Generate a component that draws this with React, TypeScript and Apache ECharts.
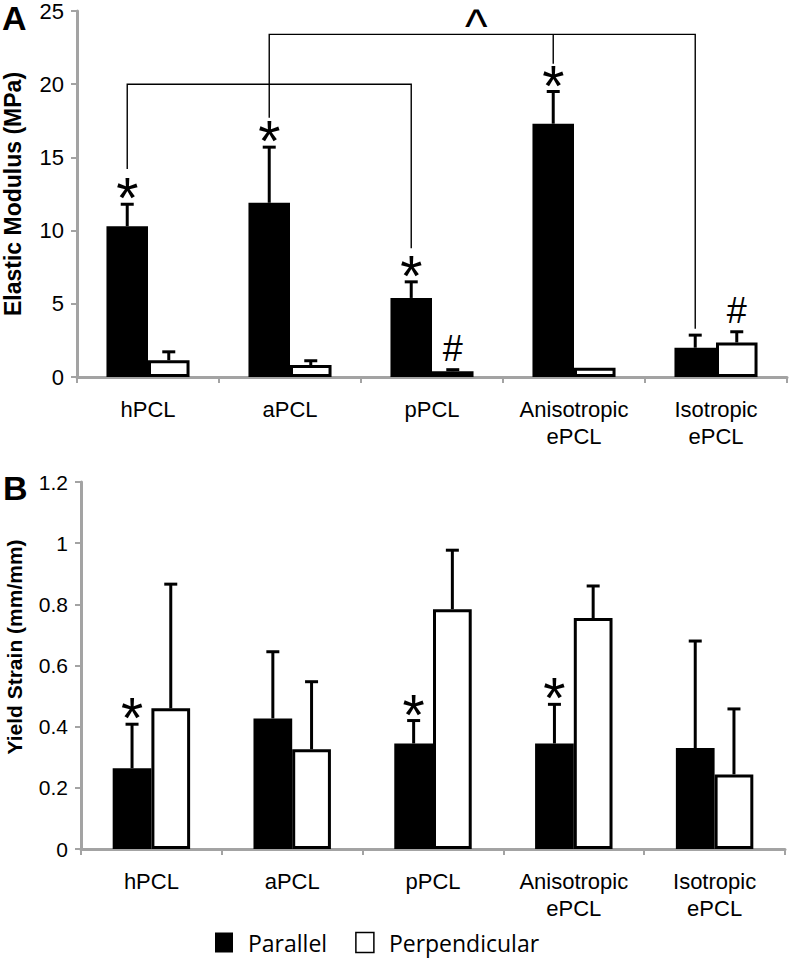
import React, { useEffect, useRef } from "react";
import * as echarts from "echarts";

const categories = ["hPCL", "aPCL", "pPCL", "Anisotropic\nePCL", "Isotropic\nePCL"];

// Panel A: Elastic Modulus (MPa)
const modulusParallel = [10.3, 11.9, 5.4, 17.3, 2.0];
const modulusParallelSD = [1.5, 3.8, 1.1, 2.2, 0.86];
const modulusPerp = [1.15, 0.82, 0.4, 0.63, 2.36];
const modulusPerpSD = [0.57, 0.29, 0.1, 0, 0.73];

// Panel B: Yield Strain (mm/mm)
const strainParallel = [0.264, 0.427, 0.345, 0.345, 0.33];
const strainParallelSD = [0.144, 0.218, 0.075, 0.128, 0.35];
const strainPerp = [0.46, 0.326, 0.784, 0.755, 0.244];
const strainPerpSD = [0.406, 0.221, 0.193, 0.105, 0.214];

// significance marks: category, side (0 parallel, 1 perpendicular), symbol
const modulusMarks = [
  { cat: 0, side: 0, text: "*" },
  { cat: 1, side: 0, text: "*" },
  { cat: 2, side: 0, text: "*" },
  { cat: 3, side: 0, text: "*" },
  { cat: 2, side: 1, text: "#" },
  { cat: 4, side: 1, text: "#" },
];
const strainMarks = [
  { cat: 0, side: 0, text: "*" },
  { cat: 2, side: 0, text: "*" },
  { cat: 3, side: 0, text: "*" },
];

// comparison brackets in panel A (values in MPa)
const modulusBrackets = [
  { from: 0, to: 2, top: 20.0, fromEnd: 14.2, toEnd: 8.8, midCat: -1, midEnd: 0, label: "" },
  { from: 1, to: 4, top: 23.4, fromEnd: 17.7, toEnd: 3.3, midCat: 3, midEnd: 21.4, label: "^" },
];

const GAP_A = 0.415;
const GAP_B = 0.45;
const FONT = "'Liberation Sans', Arial, Helvetica, sans-serif";

function barOffset(api: any, side: number, gap: number) {
  const bw = api.size([1, 0])[0];
  const w = (bw * (1 - gap)) / 2;
  return side === 0 ? -w / 2 : w / 2;
}

function errorSeries(name: string, vals: number[], sds: number[], side: number, gap: number, axis: number) {
  return {
    type: "custom",
    name,
    xAxisIndex: axis,
    yAxisIndex: axis,
    z: 5,
    silent: true,
    data: vals.map((v, i) => [i, v, sds[i]]),
    encode: { x: 0, y: 1 },
    renderItem: (params: any, api: any) => {
      const cat = api.value(0);
      const v = api.value(1);
      const sd = api.value(2);
      if (!(sd > 0)) return { type: "group", children: [] };
      const base = api.coord([cat, v]);
      const top = api.coord([cat, v + sd]);
      const x = base[0] + barOffset(api, side, gap);
      return {
        type: "group",
        children: [
          { type: "line", shape: { x1: x, y1: base[1], x2: x, y2: top[1] }, style: { stroke: "#000", lineWidth: 3 } },
          { type: "line", shape: { x1: x - 6.5, y1: top[1], x2: x + 6.5, y2: top[1] }, style: { stroke: "#000", lineWidth: 3 } },
        ],
      };
    },
  };
}

function markSeries(
  name: string,
  marks: { cat: number; side: number; text: string }[],
  par: number[], parSD: number[], perp: number[], perpSD: number[],
  gap: number, axis: number
) {
  return {
    type: "custom",
    name,
    xAxisIndex: axis,
    yAxisIndex: axis,
    z: 6,
    silent: true,
    clip: false,
    data: marks.map((m) => [m.cat, m.side === 0 ? par[m.cat] + parSD[m.cat] : perp[m.cat] + perpSD[m.cat]]),
    encode: { x: 0, y: 1 },
    renderItem: (params: any, api: any) => {
      const m = marks[params.dataIndex];
      const p = api.coord([api.value(0), api.value(1)]);
      const x = p[0] + barOffset(api, m.side, gap);
      const isStar = m.text === "*";
      return {
        type: "text",
        x,
        y: isStar ? p[1] - 6 : p[1] - 21,
        style: {
          text: m.text,
          fontSize: isStar ? 57 : 36,
          fontFamily: FONT,
          fill: "#000",
          textAlign: "center",
          textVerticalAlign: "middle",
        },
      };
    },
  };
}

function bracketSeries() {
  return {
    type: "custom",
    name: "brackets",
    xAxisIndex: 0,
    yAxisIndex: 0,
    z: 4,
    silent: true,
    clip: false,
    data: modulusBrackets.map((b) => [b.from, b.top]),
    encode: { x: 0, y: 1 },
    renderItem: (params: any, api: any) => {
      const b = modulusBrackets[params.dataIndex];
      const off = barOffset(api, 0, GAP_A);
      const a0 = api.coord([b.from, b.fromEnd]);
      const a1 = api.coord([b.from, b.top]);
      const c1 = api.coord([b.to, b.top]);
      const c0 = api.coord([b.to, b.toEnd]);
      const children: any[] = [
        {
          type: "polyline",
          shape: { points: [[a0[0] + off, a0[1]], [a1[0] + off, a1[1]], [c1[0] + off, c1[1]], [c0[0] + off, c0[1]]] },
          style: { stroke: "#000", lineWidth: 1.4, fill: "none" },
        },
      ];
      if (b.midCat >= 0) {
        const m1 = api.coord([b.midCat, b.top]);
        const m0 = api.coord([b.midCat, b.midEnd]);
        children.push({
          type: "line",
          shape: { x1: m1[0] + off, y1: m1[1], x2: m0[0] + off, y2: m0[1] },
          style: { stroke: "#000", lineWidth: 1.4 },
        });
      }
      if (b.label) {
        children.push({
          type: "text",
          x: (a1[0] + c1[0]) / 2 + off - 6,
          y: a1[1] - 8,
          style: {
            text: b.label,
            fontSize: 48,
            fontFamily: FONT,
            fill: "#000",
            textAlign: "center",
            textVerticalAlign: "middle",
          },
        });
      }
      return { type: "group", children };
    },
  };
}

const axisGray = "#a3a3a3";

function xAxisCfg(grid: number) {
  return {
    type: "category",
    gridIndex: grid,
    data: categories,
    axisLine: { lineStyle: { color: axisGray, width: 3 } },
    axisTick: { show: true, alignWithLabel: false, length: 6, lineStyle: { color: axisGray, width: 2 } },
    axisLabel: { color: "#000", fontSize: 22, fontFamily: FONT, margin: 19, lineHeight: 27, interval: 0 },
    splitLine: { show: false },
  };
}

function yAxisCfg(grid: number, max: number, interval: number, fontSize: number) {
  return {
    type: "value",
    gridIndex: grid,
    min: 0,
    max,
    interval,
    axisLine: { show: true, lineStyle: { color: axisGray, width: 3 } },
    axisTick: { show: true, length: 6, lineStyle: { color: axisGray, width: 2 } },
    axisLabel: { color: "#000", fontSize, fontFamily: FONT, margin: 13 },
    splitLine: { show: false },
  };
}

export default function App() {
  const ref = useRef<HTMLDivElement>(null);
  useEffect(() => {
    if (!ref.current) return;
    const chart = echarts.init(ref.current, undefined, { renderer: "svg" });
    const option: any = {
      animation: false,
      backgroundColor: "#fff",
      grid: [
        { left: 77, top: 10, width: 710, height: 367 },
        { left: 81, top: 482, width: 704, height: 367 },
      ],
      xAxis: [xAxisCfg(0), xAxisCfg(1)],
      yAxis: [yAxisCfg(0, 25, 5, 22), yAxisCfg(1, 1.2, 0.2, 21)],
      legend: {
        left: 215,
        top: 931,
        padding: 0,
        itemWidth: 18,
        itemHeight: 20,
        itemGap: 28,
        textStyle: { color: "#000", fontSize: 23, lineHeight: 20, fontFamily: "'Open Sans', sans-serif", padding: [0, 0, 0, 10] },
        data: [
          { name: "Parallel", icon: "rect" },
          { name: "Perpendicular", icon: "rect", itemStyle: { color: "#fff", borderColor: "#000", borderWidth: 1.5 } },
        ],
        selectedMode: false,
      },
      graphic: [
        { type: "text", left: 2, top: 1, style: { text: "A", fontSize: 34, fontWeight: "bold", fontFamily: FONT, fill: "#000" } },
        { type: "text", left: 3, top: 471, style: { text: "B", fontSize: 34, fontWeight: "bold", fontFamily: FONT, fill: "#000" } },
        {
          type: "text", x: 13, y: 194, rotation: Math.PI / 2,
          style: { text: "Elastic Modulus (MPa)", fontSize: 23, fontWeight: "bold", fontFamily: FONT, fill: "#000", textAlign: "center", textVerticalAlign: "middle" },
        },
        {
          type: "text", x: 14, y: 647, rotation: Math.PI / 2,
          style: { text: "Yield Strain (mm/mm)", fontSize: 21, fontWeight: "bold", fontFamily: FONT, fill: "#000", textAlign: "center", textVerticalAlign: "middle" },
        },
      ],
      series: [
        {
          type: "bar", name: "Parallel", xAxisIndex: 0, yAxisIndex: 0, data: modulusParallel,
          barGap: "0%", barCategoryGap: GAP_A * 100 + "%",
          itemStyle: { color: "#000" },
        },
        {
          type: "bar", name: "Perpendicular", xAxisIndex: 0, yAxisIndex: 0, data: modulusPerp,
          barGap: "0%", barCategoryGap: GAP_A * 100 + "%",
          itemStyle: { color: "#fff", borderColor: "#000", borderWidth: 3 },
        },
        {
          type: "bar", name: "Parallel", xAxisIndex: 1, yAxisIndex: 1, data: strainParallel,
          barGap: "0%", barCategoryGap: GAP_B * 100 + "%",
          itemStyle: { color: "#000" },
        },
        {
          type: "bar", name: "Perpendicular", xAxisIndex: 1, yAxisIndex: 1, data: strainPerp,
          barGap: "0%", barCategoryGap: GAP_B * 100 + "%",
          itemStyle: { color: "#fff", borderColor: "#000", borderWidth: 3 },
        },
        errorSeries("errA1", modulusParallel, modulusParallelSD, 0, GAP_A, 0),
        errorSeries("errA2", modulusPerp, modulusPerpSD, 1, GAP_A, 0),
        errorSeries("errB1", strainParallel, strainParallelSD, 0, GAP_B, 1),
        errorSeries("errB2", strainPerp, strainPerpSD, 1, GAP_B, 1),
        markSeries("marksA", modulusMarks, modulusParallel, modulusParallelSD, modulusPerp, modulusPerpSD, GAP_A, 0),
        markSeries("marksB", strainMarks, strainParallel, strainParallelSD, strainPerp, strainPerpSD, GAP_B, 1),
        bracketSeries(),
      ],
    };
    chart.setOption(option);
    return () => chart.dispose();
  }, []);
  return (
    <div
      ref={ref}
      style={{ position: "absolute", left: 0, top: 0, width: 792, height: 959, background: "#fff" }}
    />
  );
}
